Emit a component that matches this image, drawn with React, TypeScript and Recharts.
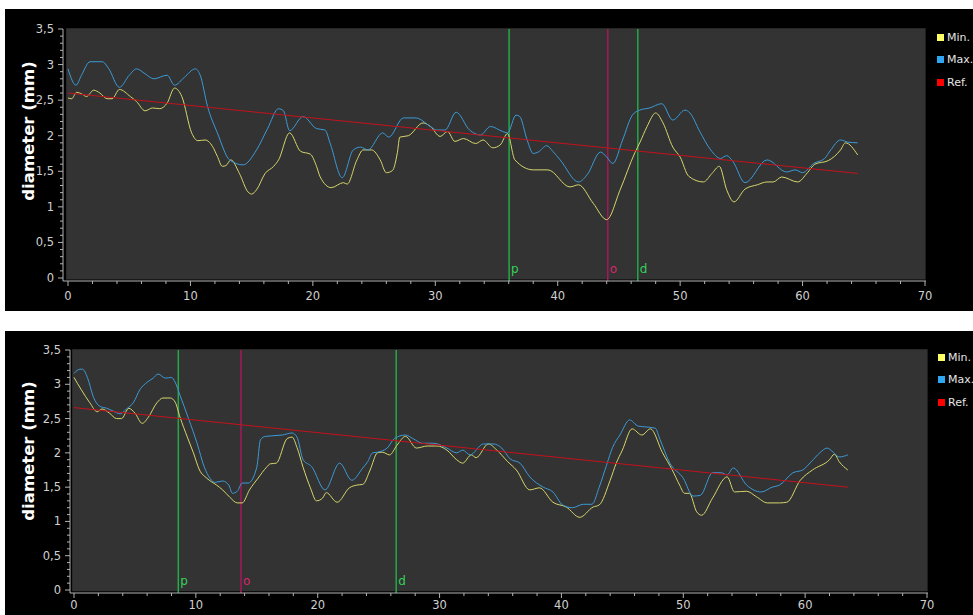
import React from "react";
import {
  LineChart,
  Line,
  XAxis,
  YAxis,
  ReferenceLine,
  ReferenceArea,
} from "recharts";

type Pt = [number, number];

const seriesNames = ["Min.", "Max.", "Ref."];
const xMajorTicks = [0, 10, 20, 30, 40, 50, 60, 70];
const yMajorTicks = [0, 0.5, 1, 1.5, 2, 2.5, 3, 3.5];

// upper profile
const topMin: Pt[] = [
  [0, 2.53], [0.3, 2.52], [0.7, 2.61], [1.2, 2.58], [1.5, 2.55], [2.1, 2.64], [2.6, 2.6],
  [3.2, 2.52], [3.6, 2.52], [4.2, 2.65], [5.1, 2.55], [5.6, 2.48], [6.3, 2.35], [6.9, 2.39],
  [7.5, 2.38], [8.1, 2.46], [8.7, 2.67], [9.3, 2.55], [10.1, 2.04], [10.6, 1.93], [11.2, 1.94],
  [11.8, 1.85], [12.2, 1.71], [12.6, 1.57], [12.9, 1.58], [13.3, 1.66], [14.0, 1.47], [14.7, 1.21],
  [15.0, 1.18], [15.4, 1.24], [16.1, 1.47], [16.8, 1.57], [17.2, 1.66], [18.1, 2.04], [19.0, 1.78],
  [19.8, 1.74], [20.3, 1.57], [20.6, 1.42], [21.5, 1.27], [22.5, 1.34], [22.8, 1.32], [23.6, 1.66],
  [24.1, 1.8], [24.8, 1.8], [25.5, 1.66], [26.0, 1.48], [26.5, 1.51], [26.9, 1.76], [27.1, 1.98],
  [27.8, 2.0], [29.0, 2.18], [29.6, 2.13], [30.4, 1.99], [31.0, 2.06], [31.6, 1.92], [32.3, 1.96],
  [33.3, 1.89], [33.9, 1.94], [34.7, 1.83], [35.3, 1.87], [35.9, 2.03], [36.5, 1.66], [38.0, 1.52],
  [39.2, 1.52], [41.0, 1.28], [41.7, 1.31], [42.9, 1.05], [44.0, 0.82], [45.1, 1.24], [46.3, 1.76],
  [46.7, 1.9], [47.3, 2.13], [48.0, 2.32], [48.6, 2.18], [49.4, 1.84], [50.0, 1.7], [50.7, 1.43],
  [51.9, 1.35], [52.6, 1.47], [53.2, 1.57], [53.8, 1.24], [54.4, 1.07], [55.3, 1.25], [56.3, 1.31],
  [57.1, 1.35], [57.6, 1.35], [58.3, 1.42], [59.6, 1.35], [60.4, 1.48], [61.0, 1.6], [62.1, 1.65],
  [63.1, 1.8], [63.5, 1.9], [64.5, 1.73],
];
const topMax: Pt[] = [
  [0, 2.94], [0.65, 2.71], [1.1, 2.85], [1.8, 3.04], [2.8, 3.04], [3.3, 2.95], [4.2, 2.68],
  [5.0, 2.85], [5.6, 2.94], [6.3, 2.87], [7.0, 2.8], [8.1, 2.85], [8.7, 2.71], [9.5, 2.82],
  [10.4, 2.94], [10.8, 2.85], [11.4, 2.41], [12.2, 2.04], [13.2, 1.66], [14.3, 1.59], [15.4, 1.8],
  [16.3, 2.1], [17.2, 2.38], [17.6, 2.35], [18.1, 2.07], [19.2, 2.27], [20.3, 2.1], [21.0, 2.08],
  [21.4, 1.9], [22.4, 1.41], [23.3, 1.8], [23.9, 1.84], [24.5, 1.8], [25.7, 2.04], [26.2, 1.98],
  [27.4, 2.25], [28.4, 2.25], [29.6, 2.13], [30.1, 2.08], [30.8, 2.08], [31.7, 2.33], [32.8, 2.08],
  [33.7, 2.01], [34.5, 2.13], [35.5, 2.06], [35.9, 2.04], [36.6, 2.29], [36.9, 2.27], [37.5, 1.94],
  [38.0, 1.75], [38.4, 1.77], [39.1, 1.86], [39.6, 1.78], [40.2, 1.66], [41.7, 1.35], [42.4, 1.45],
  [43.5, 1.77], [44.0, 1.7], [44.5, 1.61], [45.3, 1.94], [46.1, 2.29], [46.7, 2.36], [47.5, 2.39],
  [48.5, 2.45], [49.4, 2.22], [50.4, 2.36], [50.8, 2.32], [51.6, 2.06], [52.5, 1.8], [53.3, 1.68],
  [53.8, 1.72], [54.3, 1.64], [55.3, 1.34], [57.1, 1.66], [58.7, 1.49], [59.4, 1.52], [60.0, 1.48],
  [60.9, 1.61], [61.8, 1.68], [62.3, 1.8], [63.1, 1.94], [63.7, 1.91], [64.5, 1.9],
];
const topRef: Pt[] = [[0, 2.6], [64.5, 1.47]];
const topMarkers: [string, number][] = [["p", 36.03], ["o", 44.09], ["d", 46.54]];

// lower profile
const botMin: Pt[] = [
  [0, 3.1], [0.6, 2.92], [1.3, 2.73], [1.9, 2.6], [2.3, 2.64], [2.9, 2.58], [3.5, 2.5], [3.9, 2.5],
  [4.5, 2.65], [5.0, 2.58], [5.6, 2.43], [6.1, 2.52], [6.8, 2.73], [7.3, 2.8], [7.9, 2.8], [8.3, 2.74],
  [8.7, 2.52], [9.3, 2.23], [9.8, 2.0], [10.3, 1.75], [10.9, 1.63], [11.7, 1.53], [12.2, 1.46],
  [12.8, 1.35], [13.4, 1.27], [13.8, 1.27], [14.4, 1.46], [15.1, 1.63], [15.8, 1.79], [16.1, 1.84],
  [16.6, 1.85], [17.5, 2.21], [17.9, 2.23], [18.3, 2.08], [18.8, 1.79], [19.4, 1.49], [19.9, 1.3],
  [20.4, 1.34], [20.7, 1.42], [21.6, 1.28], [22.6, 1.49], [23.2, 1.53], [23.7, 1.54], [24.3, 1.75],
  [24.9, 2.0], [25.3, 2.01], [25.9, 1.97], [26.5, 2.11], [27.2, 2.24], [28.1, 2.07], [29.0, 2.1],
  [29.8, 2.1], [30.6, 2.04], [31.4, 1.9], [31.9, 1.85], [32.6, 1.97], [33.0, 1.93], [34.0, 2.13],
  [34.7, 2.04], [35.6, 1.87], [36.3, 1.75], [37.4, 1.46], [38.2, 1.49], [39.3, 1.28], [40.4, 1.21],
  [41.5, 1.06], [42.6, 1.21], [43.1, 1.24], [44.0, 1.6], [44.5, 1.85], [45.0, 2.04], [45.8, 2.35],
  [46.6, 2.26], [47.3, 2.35], [48.3, 2.0], [49.1, 1.75], [49.7, 1.53], [50.1, 1.41], [50.5, 1.41],
  [51.1, 1.14], [51.5, 1.09], [52.4, 1.34], [53.6, 1.65], [54.2, 1.43], [55.2, 1.44], [56.0, 1.36],
  [56.9, 1.27], [57.9, 1.27], [58.5, 1.28], [59.6, 1.6], [60.6, 1.75], [62.0, 1.9], [62.4, 1.98],
  [62.8, 1.87], [63.5, 1.75],
];
const botMax: Pt[] = [
  [0, 3.16], [0.5, 3.22], [0.7, 3.22], [1.1, 3.1], [1.6, 2.81], [2.1, 2.68], [2.7, 2.65], [3.2, 2.61],
  [3.8, 2.57], [4.3, 2.64], [4.9, 2.74], [5.4, 2.92], [6.0, 3.03], [6.5, 3.09], [6.9, 3.15], [7.5, 3.09],
  [8.0, 3.1], [8.3, 3.03], [8.7, 2.84], [9.4, 2.5], [10.1, 2.14], [10.7, 1.79], [11.6, 1.57],
  [12.2, 1.59], [12.7, 1.53], [13.0, 1.41], [13.4, 1.44], [13.8, 1.56], [14.3, 1.56], [15.0, 1.79],
  [15.3, 2.19], [15.7, 2.24], [17.1, 2.26], [17.9, 2.29], [18.3, 2.23], [18.8, 1.9], [19.5, 1.8],
  [20.6, 1.46], [21.8, 1.85], [22.8, 1.6], [23.7, 1.78], [24.1, 1.87], [24.5, 2.0], [24.9, 2.01],
  [25.7, 2.07], [26.3, 2.21], [27.2, 2.26], [27.8, 2.21], [28.6, 2.14], [29.5, 2.14], [30.6, 2.07],
  [31.4, 2.0], [31.9, 2.04], [32.5, 1.97], [33.6, 2.13], [34.4, 2.13], [35.1, 2.07], [35.8, 1.91],
  [36.6, 1.85], [37.4, 1.65], [38.5, 1.5], [39.3, 1.43], [40.1, 1.24], [40.9, 1.2], [41.8, 1.25],
  [42.5, 1.25], [43.1, 1.5], [43.7, 1.82], [44.2, 2.08], [44.8, 2.26], [45.6, 2.48], [46.3, 2.39],
  [46.8, 2.38], [47.7, 2.36], [48.1, 2.19], [48.9, 1.85], [50.0, 1.63], [50.8, 1.37], [51.4, 1.38],
  [52.4, 1.71], [53.1, 1.71], [53.6, 1.68], [54.1, 1.78], [55.2, 1.53], [56.4, 1.43], [57.3, 1.5],
  [57.9, 1.53], [59.0, 1.71], [59.8, 1.75], [60.5, 1.87], [61.2, 2.0], [61.8, 2.07], [62.3, 2.01],
  [62.8, 1.94], [63.5, 1.97],
];
const botRef: Pt[] = [[0, 2.66], [63.5, 1.5]];
const botMarkers: [string, number][] = [["p", 8.56], ["o", 13.7], ["d", 26.44]];

const C = {
  min: "#d6d66c",
  max: "#3b9ad6",
  ref: "#c4121c",
  plot: "#333333",
  axis: "#b4b4b4",
  text: "#d0d0d0",
};
const seriesColors = [C.min, C.max, C.ref];
const legendColors = ["#ffff66", "#2ea6f2", "#ff0000"];
const markerColors: Record<string, string> = { p: "#25a845", o: "#a8185a", d: "#25a845" };
const markerText: Record<string, string> = { p: "#33d15a", o: "#d8256c", d: "#33d15a" };

const xTicks = Array.from({ length: 36 }, (_, i) => i * 2);
const yTicks = Array.from({ length: 36 }, (_, i) => i / 10);
const font = "DejaVu Sans";

const rows = (pts: Pt[]) => pts.map(([x, v]) => ({ x, v }));

const XTick = ({ x, y, payload, labelDy }: any) => {
  const major = xMajorTicks.includes(payload.value);
  return (
    <g>
      <line x1={x} x2={x} y1={y} y2={y + (major ? 5 : 3)} stroke={C.axis} />
      {major && (
        <text x={x} y={y + labelDy} textAnchor="middle" fill={C.text} fontSize={11.5} fontFamily={font}>
          {payload.value}
        </text>
      )}
    </g>
  );
};

const YTick = ({ x, y, payload }: any) => {
  const v = payload.value;
  const major = yMajorTicks.some((m) => Math.abs(m - v) < 1e-6);
  return (
    <g>
      <line x1={x} x2={x - (major ? 5 : 3)} y1={y} y2={y} stroke={C.axis} />
      {major && (
        <text x={x - 9} y={y + 4} textAnchor="end" fill={C.text} fontSize={11.5} fontFamily={font}>
          {String(v).replace(".", ",")}
        </text>
      )}
    </g>
  );
};

const AxisTitle = ({ cx, cy }: any) => (
  <text
    transform={`translate(${cx},${cy}) rotate(-90)`}
    textAnchor="middle"
    dominantBaseline="central"
    fill="#ffffff"
    fontWeight="bold"
    fontSize={16.5}
    fontFamily={font}
  >
    diameter (mm)
  </text>
);

const MarkerLabel = ({ viewBox, name }: any) => (
  <text
    x={viewBox.x + 2}
    y={viewBox.y + viewBox.height - 8}
    fill={markerText[name]}
    fontSize={12}
    fontFamily={font}
  >
    {name}
  </text>
);

function LegendBox({ left, top }: any) {
  return (
    <div
      style={{
        position: "absolute",
        left,
        top,
        fontFamily: font,
        fontSize: 11,
        color: "#e4e4e4",
        whiteSpace: "nowrap",
      }}
    >
      {seriesNames.map((name, i) => (
        <div key={name} style={{ height: 22.5, display: "flex", alignItems: "center" }}>
          <span
            style={{ display: "inline-block", width: 7, height: 7, background: legendColors[i], marginRight: 3 }}
          />
          <span>{name}</span>
        </div>
      ))}
    </div>
  );
}

function DiameterChart({ top, minPts, maxPts, refPts, markers, margin, xPadding, xLabelDy, legendTop, legendLeft, titleY }: any) {
  const series = [minPts, maxPts, refPts];
  return (
    <div style={{ position: "absolute", left: 5, top, width: 968, height: 302, background: "#000" }}>
      <LineChart width={968} height={302} margin={margin}>
        <ReferenceArea
          x1={-0.15}
          x2={70.05}
          y1={-0.02}
          y2={3.51}
          fill={C.plot}
          fillOpacity={1}
          stroke="none"
          ifOverflow="visible"
        />
        <XAxis
          type="number"
          dataKey="x"
          domain={[0, 70]}
          ticks={xTicks}
          interval={0}
          tick={<XTick labelDy={xLabelDy} />}
          tickLine={false}
          tickSize={0}
          tickMargin={0}
          axisLine={{ stroke: C.axis }}
          padding={xPadding}
          height={30}
        />
        <YAxis
          type="number"
          domain={[0, 3.5]}
          ticks={yTicks}
          interval={0}
          width={40}
          tick={<YTick />}
          tickLine={false}
          tickSize={0}
          tickMargin={0}
          axisLine={{ stroke: C.axis }}
          padding={{ top: 0, bottom: 3 }}
          label={<AxisTitle cx={23} cy={titleY} />}
        />
        {markers.map(([name, x]: [string, number]) => (
          <ReferenceLine
            key={name}
            x={x}
            stroke={markerColors[name]}
            strokeWidth={1.5}
            label={<MarkerLabel name={name} />}
          />
        ))}
        {series.map((pts: Pt[], i: number) => (
          <Line
            key={seriesNames[i]}
            data={rows(pts)}
            dataKey="v"
            name={seriesNames[i]}
            type={i === 2 ? "linear" : "monotone"}
            stroke={seriesColors[i]}
            strokeWidth={1}
            dot={false}
            isAnimationActive={false}
          />
        ))}
      </LineChart>
      <LegendBox left={legendLeft} top={legendTop} />
    </div>
  );
}

export default function App() {
  return (
    <div style={{ position: "absolute", left: 0, top: 0, width: 973, height: 615, overflow: "hidden", background: "#fff" }}>
      <DiameterChart
        top={9}
        minPts={topMin}
        maxPts={topMax}
        refPts={topRef}
        markers={topMarkers}
        margin={{ top: 20, right: 47, left: 18, bottom: 0 }}
        xPadding={{ left: 5, right: 1 }}
        xLabelDy={19}
        legendTop={17}
        legendLeft={932}
        titleY={122}
      />
      <DiameterChart
        top={331}
        minPts={botMin}
        maxPts={botMax}
        refPts={botRef}
        markers={botMarkers}
        margin={{ top: 19, right: 45, left: 25, bottom: 10 }}
        xPadding={{ left: 4, right: 1 }}
        xLabelDy={16}
        legendTop={15}
        legendLeft={933}
        titleY={120}
      />
    </div>
  );
}
